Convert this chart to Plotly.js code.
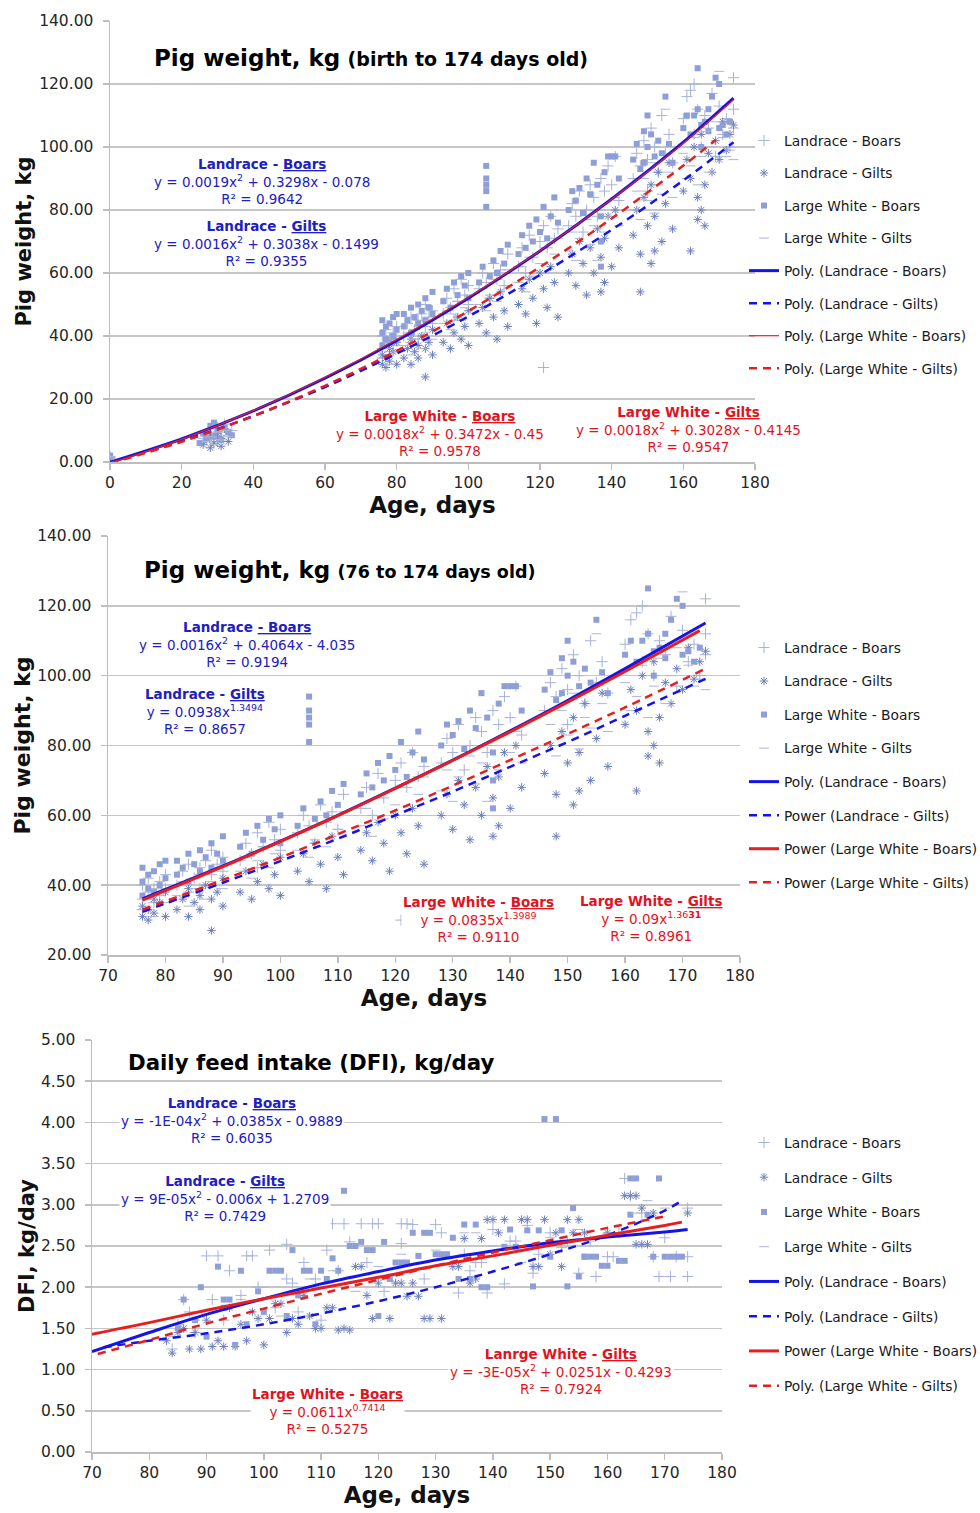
<!DOCTYPE html>
<html><head><meta charset="utf-8">
<script src="https://cdn.plot.ly/plotly-3.0.1.min.js"></script>
<style>html,body{margin:0;padding:0;background:#fff;}</style>
</head><body><div id="chart" style="width:980px;height:1513px;"></div>
<script>
// ---------- Growth data (76-174 days), shared by panels 1 and 2 ----------
const lbAge = [76,76,76,77,77,78,78,79,79,80,80, 82,83,84,84,85,86,86,87,88,88,89,90,90, 93,94,95,96,96,97,98,99,100,100, 103,104,105,106,107,108,109,110,111, 114,115,116,117,118,120,121,121,122,123,124,125, 128,129,130,131,132,133,134,135,136,137,138,139,140,141,142, 146,147,148,149,150,150,151,152,153,154,155,156,157, 160,161,162,163,163,164,165,166,167,168,169,170,171,172,173,174,174,174];
const lbWt  = [36,40,33,38,42,35,39,41,37,43,39, 40,44,38,46,42,45,39,47,43,50,46,44,48, 47,52,49,55,45,51,58,53,50,56, 55,60,57,52,63,58,61,56,66, 62,68,60,72,65,70,30,75,68,78,71,74, 75,82,78,86,73,80,88,84,78,90,86,94,88,97,83, 90,98,94,102,86,96,106,100,92,110,98,104,95, 109,116,118,120,104,112,100,110,106,117,97,113,104,109,100,122,112,106];
const lgAge = [76,76,77,77,78,78,79,80,80, 82,83,84,84,85,86,86,87,88,88,89,90,90, 93,94,95,96,97,98,99,100,100, 103,104,105,106,107,108,109,110,111, 114,115,116,117,118,119,120,121,122,123,124,125, 128,129,130,131,132,133,134,135,136,137,137,138,138,139,140,141,142, 146,147,148,148,149,150,151,151,152,152,153,154,155,156,157, 160,161,162,162,163,164,164,165,165,166,166,167,168,169,170,171,172,173,174];
const lgWt  = [31,34,30,33,36,32,35,31,38, 33,36,31,39,35,37,33,40,27,36,38,34,42, 38,44,36,41,46,39,43,48,37, 44,49,41,52,46,39,54,48,43, 50,55,47,58,52,44,60,55,49,62,57,46, 60,66,56,70,63,53,68,60,74,54,65,71,57,78,62,80,68, 72,80,54,66,84,75,63,88,67,78,92,70,82,95,74, 86,96,67,90,100,84,77,104,80,88,75,98,92,102,96,108,99,104,107];
const lwbAge = [76,76,76,77,77,78,78,79,79,80,80, 82,82,83,84,84,85,86,86,87,88,88,89,90,90, 93,94,95,96,97,98,99,100,100, 103,104,105,105,105,105,105,106,107,108,109,110,111, 114,115,116,117,118,119,120,121,122,123,124,125, 128,129,130,131,132,133,134,135,136,137,137,137,138,139,140,141,142, 146,147,148,149,149,150,150,151,152,153,154,155,156,157, 160,161,162,163,164,164,165,165,166,167,167,168,169,170,170,171,172,173];
const lwbWt  = [37,41,45,39,43,38,44,40,46,42,47, 43,47,45,41,49,46,44,50,48,45,52,49,47,54, 51,55,49,57,53,59,56,52,60, 57,62,81,86,88,90,94,59,64,60,67,63,69, 66,72,68,75,70,77,73,81,71,78,84,76, 80,86,83,87,79,90,85,95,88,78,70,62,92,97,97,97,90, 96,101,93,105,95,110,100,104,97,102,98,116,101,95, 106,110,104,110,125,112,100,107,108,112,105,116,122,120,106,107,104,108];
const lwgAge = [76,77,78,79,80, 82,83,84,85,86,87,88,89,90, 93,94,95,96,97,98,99,100, 103,104,105,106,107,108,110,111, 114,115,116,117,118,120,121,122,124,125, 128,129,130,131,133,134,135,136,137,138,140,141,142, 146,147,148,149,150,151,152,153,154,155,156,157, 160,161,162,163,164,165,166,167,168,169,170,171,172,173,174];
const lwgWt  = [33,36,31,38,35, 37,41,34,39,43,36,41,45,39, 44,48,42,47,51,45,49,53, 50,55,48,53,58,51,56,61, 57,62,54,65,59,63,68,60,66,71, 67,73,64,71,77,69,75,64,80,73,78,84,75, 80,86,77,90,83,95,79,88,85,112,92,84, 98,90,94,103,88,97,105,92,100,108,124,103,97,99,96];

// ---------- Early data (birth and ~4 weeks), panel 1 only ----------
const lbEarlyAge  = [0,0,0,26,27,28,29,30,30,31,32,33,34];
const lbEarlyWt   = [1.4,1.8,1.2,7.5,9.0,10.5,8.0,11.0,6.5,9.5,12.0,8.5,10.0];
const lgEarlyAge  = [0,0,26,27,28,28,29,30,31,31,32,33];
const lgEarlyWt   = [1.3,1.6,5.5,7.0,4.5,8.5,6.0,9.0,5.0,7.5,10.5,6.5];
const lwbEarlyAge = [0,0,0,25,26,27,28,29,29,30,31,32,33,34];
const lwbEarlyWt  = [1.5,2.0,1.7,6.0,9.0,7.5,11.5,8.0,12.5,10.0,7.0,11.0,9.5,8.5];
const lwgEarlyAge = [0,0,27,28,29,30,31,32,33];
const lwgEarlyWt  = [1.3,1.7,6.5,8.0,5.5,9.5,7.0,10.0,8.0];

// ---------- Trend lines, panel 1 (birth to 174 d) ----------
const p1TrendAge   = [0,20,40,60,80,100,120,140,160,174];
const p1LbTrend    = [-0.1,7.3,16.2,26.6,38.5,52.0,67.0,83.5,101.5,115.5];
const p1LgTrend    = [-0.1,6.6,14.6,23.8,34.4,46.2,59.4,73.7,89.4,101.5];
const p1LwbTrend   = [-0.4,7.2,16.3,26.9,38.9,52.3,67.1,83.4,101.2,115.0];
const p1LwgAge     = [0,20,40,60,80,100,120,140,160,169];
const p1LwgTrend   = [-0.4,6.4,14.6,24.2,35.3,47.9,61.9,77.3,94.1,102.2];

// ---------- Trend lines, panel 2 (76 to 174 d) ----------
const p2TrendAge = [76,90,100,110,120,130,140,150,160,174];
const p2LbTrend  = [36.1,45.5,52.6,60.0,67.8,75.8,84.2,92.9,102.0,115.1];
const p2LgTrend  = [32.4,40.7,46.9,53.3,60.0,66.8,73.9,81.0,88.5,99.1];
const p2LwbAge   = [76,90,100,110,120,130,140,150,160,173];
const p2LwbTrend = [35.7,45.3,52.5,59.9,67.7,75.7,83.9,92.4,101.2,112.9];
const p2LwgTrend = [33.0,41.5,47.9,54.6,61.4,68.5,75.8,83.3,90.9,102.0];

// ---------- Daily feed intake data ----------
const dLbAge = [84,85,86,87,88,90,91,92,93,94,96,97,98,99,101,102,104,104,105,106,107,109,110,111,112,113,114,115,117,118,119,120,121,124,124,125,126,128,130,131,134,135,136,137,138,139,140,142,143,144,146,147,148,150,152,153,155,157,158,160,161,162,163,164,166,168,169,170,171,172,174,174,174];
const dLbVal = [1.25,1.55,1.85,1.70,1.45,2.38,1.85,2.38,1.60,2.20,1.90,2.38,2.38,2.00,2.45,1.75,2.52,2.10,2.05,1.70,2.30,2.10,1.60,2.45,2.77,2.20,2.77,2.55,2.77,2.30,2.77,2.77,1.95,2.53,2.77,2.77,2.76,2.10,2.76,2.66,1.93,2.40,2.20,2.30,2.30,1.93,2.70,2.04,2.56,2.56,2.75,2.17,2.40,2.66,2.48,2.56,2.17,2.56,2.13,2.37,2.37,2.66,3.32,3.11,2.90,2.37,2.13,2.60,2.13,2.37,2.13,2.96,2.37];
const dLgAge = [83,84,85,86,87,88,89,90,91,92,93,94,95,96,97,98,99,100,101,102,103,104,105,106,107,108,109,110,111,112,113,114,115,116,117,118,119,120,122,123,124,125,126,127,128,129,131,133,134,135,136,137,138,139,140,141,142,145,146,147,148,149,150,151,152,153,154,155,156,160,163,164,165,165,166,166,167,168,174];
const dLgVal = [1.35,1.20,1.45,1.50,1.25,1.45,1.25,1.60,1.28,1.35,1.28,1.75,1.28,1.55,1.35,1.70,1.62,1.30,1.62,1.80,1.80,1.45,1.62,1.55,1.90,1.65,1.50,1.50,1.75,1.75,1.48,1.50,1.48,2.25,2.25,1.90,1.62,2.05,1.62,2.05,2.05,1.89,2.05,1.89,1.62,1.62,1.62,2.25,2.25,2.59,2.05,2.10,2.59,2.82,2.82,2.66,2.82,2.82,2.82,2.25,2.25,2.82,2.40,2.66,2.25,2.82,2.66,2.82,2.66,2.66,3.11,3.11,3.11,2.52,2.96,2.52,2.52,2.90,2.90];
const dLwbAge = [85,86,88,89,90,92,93,93,94,95,96,97,99,100,101,102,103,104,105,106,107,108,109,110,111,112,113,114,115,116,117,118,119,120,121,122,123,124,125,126,127,128,129,130,131,132,133,134,135,136,137,138,139,142,143,144,146,147,148,149,150,151,152,153,154,155,156,156,157,158,159,160,162,163,164,164,165,167,168,169,170,171,172,173];
const dLwbVal = [1.50,1.85,1.60,2.00,1.40,2.25,1.75,1.85,1.85,1.30,2.20,1.55,1.95,1.70,2.20,2.20,2.20,1.65,2.45,1.90,2.20,2.20,1.55,2.20,2.10,2.35,2.20,3.17,2.50,2.50,2.55,2.45,2.45,1.65,2.55,2.10,2.30,2.30,2.30,2.66,2.38,2.66,2.66,2.40,2.40,2.40,2.60,2.10,2.76,2.10,2.76,2.00,2.00,2.49,2.70,2.49,2.69,2.01,2.69,4.04,2.37,4.04,2.69,2.01,2.96,2.13,2.37,2.37,2.37,2.37,2.26,2.26,2.32,2.32,3.32,2.88,3.32,2.88,2.37,3.32,2.37,2.37,2.37,2.37];
const dLwgAge = [84,88,92,96,100,103,108,112,116,120,124,130,135,137,140,145,150,155,160,165,167,170];
const dLwgVal = [1.40,1.60,1.75,1.85,2.00,1.65,2.10,2.20,1.95,2.25,2.40,2.45,2.66,2.66,2.50,2.30,2.60,2.70,2.65,2.90,3.05,2.96];

// ---------- DFI trend lines ----------
const p3LbAge   = [70,80,90,100,110,120,130,140,150,160,170,174];
const p3LbTrend = [1.22,1.45,1.67,1.86,2.04,2.19,2.33,2.44,2.54,2.61,2.67,2.70];
const p3LgAge   = [72,80,90,100,110,120,130,140,150,160,170,173];
const p3LgTrend = [1.27,1.35,1.44,1.55,1.68,1.83,2.00,2.19,2.40,2.63,2.93,3.05];
const p3LwbAge   = [70,80,90,100,110,120,130,140,150,160,170,173];
const p3LwbTrend = [1.43,1.57,1.72,1.86,1.99,2.12,2.26,2.38,2.51,2.63,2.75,2.79];
const p3LwgAge   = [71,80,90,100,110,120,130,140,150,160,170];
const p3LwgTrend = [1.19,1.36,1.56,1.74,1.92,2.09,2.26,2.42,2.57,2.72,2.86];

// ---------- Labels ----------
const seriesNames = ['Landrace - Boars','Landrace - Gilts','Large White - Boars','Large White - Gilts'];
const p1TrendNames = ['Poly. (Landrace - Boars)','Poly. (Landrace - Gilts)','Poly. (Large White - Boars)','Poly. (Large White - Gilts)'];
const p2TrendNames = ['Poly. (Landrace - Boars)','Power (Landrace - Gilts)','Power (Large White - Boars)','Power (Large White - Gilts)'];
const p3TrendNames = ['Poly. (Landrace - Boars)','Poly. (Landrace - Gilts)','Power (Large White - Boars)','Poly. (Large White - Gilts)'];

// ---------- Styles ----------
const FONT = 'DejaVu Sans, Liberation Sans, Arial, sans-serif';
const BLUE = '#1414E6', RED = '#E61E1E';
const markerStyles = [
  {symbol:'cross-thin-open', size:8, color:'#A6B2DA', line:{color:'#A6B2DA', width:1}},
  {symbol:'asterisk-open', size:7, color:'#6E80BC', line:{color:'#6E80BC', width:1}},
  {symbol:'square', size:6, color:'#8D9FD6', line:{width:0}},
  {symbol:'line-ew-open', size:7, color:'#AEB7D2', line:{color:'#AEB7D2', width:1}}
];

const traces = [];
function addScatter(xs, ys, i, xa, ya, leg, grp) {
  traces.push({type:'scatter', mode:'markers', x:xs, y:ys, name:seriesNames[i],
    xaxis:xa, yaxis:ya, legend:leg, legendgroup:grp+'s'+i, marker:markerStyles[i], cliponaxis:true});
}
function addLine(xs, ys, name, color, width, dash, xa, ya, leg, grp) {
  traces.push({type:'scatter', mode:'lines', x:xs, y:ys, name:name, xaxis:xa, yaxis:ya,
    legend:leg, legendgroup:grp, line:{color:color, width:width, dash:dash, shape:'spline'}});
}

// Panel 1
const p1X = [lbEarlyAge.concat(lbAge), lgEarlyAge.concat(lgAge), lwbEarlyAge.concat(lwbAge), lwgEarlyAge.concat(lwgAge)];
const p1Y = [lbEarlyWt.concat(lbWt), lgEarlyWt.concat(lgWt), lwbEarlyWt.concat(lwbWt), lwgEarlyWt.concat(lwgWt)];
for (let i=0;i<4;i++) addScatter(p1X[i], p1Y[i], i, 'x', 'y', 'legend', 'a');
addLine(p1TrendAge, p1LbTrend, p1TrendNames[0], BLUE, 3, 'solid', 'x','y','legend','a1');
addLine(p1TrendAge, p1LgTrend, p1TrendNames[1], BLUE, 2.5, '8px,6px', 'x','y','legend','a2');
addLine(p1TrendAge, p1LwbTrend, p1TrendNames[2], RED, 1.2, 'solid', 'x','y','legend','a3');
addLine(p1LwgAge, p1LwgTrend, p1TrendNames[3], RED, 2.5, '8px,6px', 'x','y','legend','a4');

// Panel 2
const p2X = [lbAge, lgAge, lwbAge, lwgAge];
const p2Y = [lbWt, lgWt, lwbWt, lwgWt];
for (let i=0;i<4;i++) addScatter(p2X[i], p2Y[i], i, 'x2', 'y2', 'legend2', 'b');
addLine(p2TrendAge, p2LbTrend, p2TrendNames[0], BLUE, 3, 'solid', 'x2','y2','legend2','b1');
addLine(p2TrendAge, p2LgTrend, p2TrendNames[1], BLUE, 2.5, '8px,6px', 'x2','y2','legend2','b2');
addLine(p2LwbAge, p2LwbTrend, p2TrendNames[2], RED, 3, 'solid', 'x2','y2','legend2','b3');
addLine(p2TrendAge, p2LwgTrend, p2TrendNames[3], RED, 2.5, '8px,6px', 'x2','y2','legend2','b4');

// Panel 3
const p3X = [dLbAge, dLgAge, dLwbAge, dLwgAge];
const p3Y = [dLbVal, dLgVal, dLwbVal, dLwgVal];
for (let i=0;i<4;i++) addScatter(p3X[i], p3Y[i], i, 'x3', 'y3', 'legend3', 'c');
addLine(p3LbAge, p3LbTrend, p3TrendNames[0], BLUE, 3, 'solid', 'x3','y3','legend3','c1');
addLine(p3LgAge, p3LgTrend, p3TrendNames[1], BLUE, 2.5, '8px,6px', 'x3','y3','legend3','c2');
addLine(p3LwbAge, p3LwbTrend, p3TrendNames[2], RED, 3, 'solid', 'x3','y3','legend3','c3');
addLine(p3LwgAge, p3LwgTrend, p3TrendNames[3], RED, 2.5, '8px,6px', 'x3','y3','legend3','c4');

// ---------- Layout ----------
const H = 1513, W = 980;
const py = v => 1 - v/H, px = v => v/W;
const GRID = '#C6C6C6', AXL = '#BDBDBD', TICKC = '#262626';
function xAx(dom, range, dtick, anchor) {
  return {domain:dom, range:range, dtick:dtick, tick0:0, anchor:anchor, showgrid:false, zeroline:false,
    showline:true, linecolor:AXL, linewidth:1.5, ticks:'outside', ticklen:6, tickcolor:AXL, tickwidth:1.5,
    tickfont:{family:FONT, size:15.5, color:TICKC}, ticklabelstandoff:0,
    title:{text:'<b>Age, days</b>', font:{family:FONT, size:23, color:'#111'}, standoff:2}, automargin:false, fixedrange:true};
}
function yAx(dom, range, dtick, anchor, title, tsize, standoff) {
  return {domain:dom, range:range, dtick:dtick, anchor:anchor, tickformat:'.2f', showgrid:true, gridcolor:GRID, gridwidth:1.5,
    zeroline:false, showline:true, linecolor:AXL, linewidth:1.5, ticks:'outside', ticklen:6, tickcolor:AXL, tickwidth:1.5,
    tickfont:{family:FONT, size:15.5, color:TICKC}, ticklabelstandoff:6,
    title:{text:'<b>'+title+'</b>', font:{family:FONT, size:tsize, color:'#111'}, standoff:standoff}, automargin:false, fixedrange:true};
}
function legendAt(topPx, gap) {
  return {x:px(744), xanchor:'left', y:py(topPx), yanchor:'top', bgcolor:'rgba(0,0,0,0)',
    font:{family:FONT, size:13.8, color:'#1a1a1a'}, tracegroupgap:gap, itemwidth:30, traceorder:'grouped'};
}
function ann(xc, yc, text, color) {
  return {xref:'paper', yref:'paper', x:px(xc), y:py(yc), xanchor:'center', yanchor:'middle', text:text,
    showarrow:false, align:'center', bgcolor:'#ffffff', borderpad:1,
    font:{family:FONT, size:13.5, color:color}};
}
const DB = '#2020C0', DR = '#E0141E';
const annotations = [
  {xref:'paper', yref:'paper', x:px(152), y:py(58), xanchor:'left', yanchor:'middle', showarrow:false,
   text:'<b>Pig weight, kg</b> <b><span style="font-size:19px">(birth to 174 days old)</span></b>', font:{family:FONT, size:23, color:'#000'}},
  {xref:'paper', yref:'paper', x:px(142), y:py(570), xanchor:'left', yanchor:'middle', showarrow:false,
   text:'<b>Pig weight, kg</b> <b><span style="font-size:17.5px">(76 to 174 days old)</span></b>', font:{family:FONT, size:23, color:'#000'}},
  {xref:'paper', yref:'paper', x:px(126), y:py(1062), xanchor:'left', yanchor:'middle', showarrow:false,
   text:'<b>Daily feed intake (DFI), kg/day</b>', font:{family:FONT, size:21.3, color:'#000'}},
  ann(262, 181, '<b>Landrace - <u>Boars</u></b><br>y = 0.0019x<sup>2</sup> + 0.3298x - 0.078<br>R² = 0.9642', DB),
  ann(266, 243, '<b>Landrace - <u>Gilts</u></b><br>y = 0.0016x<sup>2</sup> + 0.3038x - 0.1499<br>R² = 0.9355', DB),
  ann(440, 433, '<b>Large White - <u>Boars</u></b><br>y = 0.0018x<sup>2</sup> + 0.3472x - 0.45<br>R² = 0.9578', DR),
  ann(688, 430, '<b>Large White - <u>Gilts</u></b><br>y = 0.0018x<sup>2</sup> + 0.3028x - 0.4145<br>R² = 0.9547', DR),
  ann(247, 644, '<b>Landrace <u>- Boars</u></b><br>y = 0.0016x<sup>2</sup> + 0.4064x - 4.035<br>R² = 0.9194', DB),
  ann(205, 711, '<b>Landrace - <u>Gilts</u></b><br>y = 0.0938x<sup>1.3494</sup><br>R² = 0.8657', DB),
  ann(478, 919, '<b>Large White - <u>Boars</u></b><br>y = 0.0835x<sup>1.3989</sup><br>R² = 0.9110', DR),
  ann(651, 918, '<b>Large White - <u>Gilts</u></b><br>y = 0.09x<sup>1.36<b>31</b></sup><br>R² = 0.8961', DR),
  ann(232, 1120, '<b>Landrace - <u>Boars</u></b><br>y = -1E-04x<sup>2</sup> + 0.0385x - 0.9889<br>R² = 0.6035', DB),
  ann(225, 1198, '<b>Landrace - <u>Gilts</u></b><br>y = 9E-05x<sup>2</sup> - 0.006x + 1.2709<br>R² = 0.7429', DB),
  ann(327, 1411, '<b>Large White - <u>Boars</u></b><br>y = 0.0611x<sup>0.7414</sup><br>R² = 0.5275', DR),
  ann(561, 1371, '<b>Lanrge White - <u>Gilts</u></b><br>y = -3E-05x<sup>2</sup> + 0.0251x - 0.4293<br>R² = 0.7924', DR)
];

const layout = {
  width:W, height:H, margin:{l:0, r:0, t:0, b:0, pad:0, autoexpand:false}, paper_bgcolor:'#fff', plot_bgcolor:'#fff',
  font:{family:FONT, color:'#222'}, showlegend:true, hovermode:false,
  xaxis:  xAx([px(110), px(755)], [0,180], 20, 'y'),
  yaxis:  yAx([py(462), py(21)], [0,140], 20, 'x', 'Pig weight, kg', 21, 2),
  xaxis2: xAx([px(108), px(740)], [70,180], 10, 'y2'),
  yaxis2: yAx([py(955), py(536)], [20,140], 20, 'x2', 'Pig weight, kg', 22, 0),
  xaxis3: xAx([px(92), px(722)], [70,180], 10, 'y3'),
  yaxis3: yAx([py(1452), py(1040)], [0,5], 0.5, 'x3', 'DFI, kg/day', 21, 0),
  legend:  legendAt(125, 11.6),
  legend2: legendAt(632, 12.6),
  legend3: legendAt(1127, 13.8),
  annotations: annotations
};

Plotly.newPlot('chart', traces, layout, {staticPlot:true, displayModeBar:false});
</script></body></html>
